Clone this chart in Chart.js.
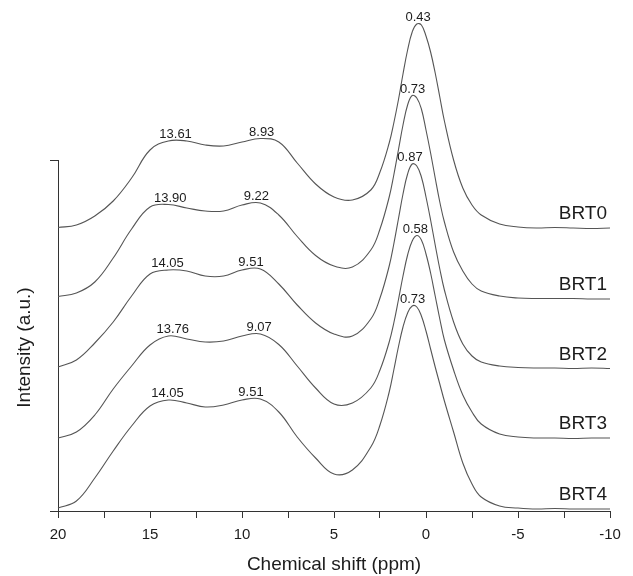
<!DOCTYPE html>
<html>
<head>
<meta charset="utf-8">
<script src="https://cdn.jsdelivr.net/npm/chart.js@4"></script>
<style>
  body { margin: 0; background: #fff; }
  #wrap { width: 633px; height: 576px; }
</style>
</head>
<body>
<div id="wrap"><canvas id="myChart" width="633" height="576"></canvas></div>
<script>
// chemical shift grid (ppm), shared by all spectra
const shifts = [20, 19, 18, 17, 16, 15, 14, 13, 12, 11, 10, 9, 8, 7, 6, 5, 4, 3, 2.5, 2,
  1.75, 1.5, 1.25, 1, 0.75, 0.5, 0.25, 0, -0.25, -0.5, -0.75, -1, -1.5, -2, -2.5, -3,
  -4, -5, -6, -7, -8, -9, -10]

// stacked intensities (a.u.)
const brt0 = [283.5, 286, 295, 310, 333, 361, 370, 370, 366, 365,
  369, 372.5, 369, 348, 327, 314, 311, 321, 339, 368,
  388, 411, 437, 461, 479, 487, 486, 475, 459, 438,
  414, 390, 351, 323, 306, 296, 287, 284, 283, 283.5,
  283, 282.5, 283]
const brt1 = [214.5, 218, 229, 253, 282, 304, 306.5, 303, 300, 300,
  306, 308, 296, 274.5, 255.5, 245, 244, 261, 282, 314,
  336, 361, 386, 406, 415.5, 413, 402, 381, 358, 333,
  309, 289, 259, 240, 227, 220, 215, 213, 212.5, 212.5,
  212.5, 212, 212]
const brt2 = [144, 151, 168, 189, 215, 237, 241, 240, 235, 235,
  241, 242, 227, 206, 188, 177, 175, 192, 213, 245,
  267, 292, 317, 337, 347, 345, 334, 314, 291, 266,
  242, 221, 189, 167, 155, 149, 145, 143.5, 143, 143,
  142.5, 143, 142.5]
const brt3 = [73, 79, 96, 122, 145, 166, 175, 172, 169, 170,
  175, 177, 166.5, 145, 123, 107, 108, 123, 141, 169,
  188, 211, 235, 256, 270, 275.5, 271, 257, 238, 215,
  192, 171, 141, 116, 99, 87, 77, 74, 73, 73,
  72.5, 73, 73]
const brt4 = [3, 10, 33, 60, 85, 105, 111, 108, 104, 106,
  111, 112, 99, 74, 53, 37, 41, 64, 86, 119,
  141, 164, 184, 198, 205, 204, 195, 180, 162, 144,
  127, 110, 79, 48, 27, 14, 5, 3, 2, 2.5,
  2, 2, 2]

const sampleNames = ['BRT0', 'BRT1', 'BRT2', 'BRT3', 'BRT4']
const spectra = [brt0, brt1, brt2, brt3, brt4]

// peak positions written on the curves
const peaks0 = ['13.61', '8.93', '0.43']
const peaks1 = ['13.90', '9.22', '0.73']
const peaks2 = ['14.05', '9.51', '0.87']
const peaks3 = ['13.76', '9.07', '0.58']
const peaks4 = ['14.05', '9.51', '0.73']
const peakLabels = [peaks0, peaks1, peaks2, peaks3, peaks4]

const xTicks = [20, 15, 10, 5, 0, -5, -10]

const FONT = "'Liberation Sans', Arial, Helvetica, sans-serif"
const LINE = '#555'
const INK = '#1c1c1c'

const labelPlugin = {
  id: 'labels',
  afterDatasetsDraw(chart) {
    const ctx = chart.ctx
    const xs = chart.scales.x
    const ys = chart.scales.y
    const area = chart.chartArea
    ctx.save()
    ctx.fillStyle = INK
    spectra.forEach((vals, i) => {
      // peak values above the curve
      ctx.font = '13px ' + FONT
      ctx.textAlign = 'center'
      ctx.textBaseline = 'alphabetic'
      peakLabels[i].forEach(txt => {
        const p = parseFloat(txt)
        let top = -Infinity
        shifts.forEach((s, k) => {
          if (Math.abs(s - p) <= 0.6 && vals[k] > top) top = vals[k]
        })
        ctx.fillText(txt, xs.getPixelForValue(p), ys.getPixelForValue(top) - 3)
      })
      // sample name at the right end
      ctx.font = '19px ' + FONT
      ctx.textAlign = 'right'
      ctx.textBaseline = 'middle'
      const last = vals[vals.length - 1]
      ctx.fillText(sampleNames[i], area.right - 3, ys.getPixelForValue(last) - 14)
    })
    // y axis title, sits a bit below the axis middle in the original
    ctx.translate(25, (area.top + area.bottom) / 2 + 12)
    ctx.rotate(-Math.PI / 2)
    ctx.font = '19px ' + FONT
    ctx.textAlign = 'center'
    ctx.textBaseline = 'middle'
    ctx.fillText('Intensity (a.u.)', 0, 0)
    ctx.restore()
  }
}

new Chart(document.getElementById('myChart'), {
  type: 'line',
  data: {
    datasets: spectra.map((vals, i) => ({
      label: sampleNames[i],
      data: shifts.map((s, k) => ({ x: s, y: vals[k] })),
      borderColor: LINE,
      borderWidth: 1.1,
      pointRadius: 0,
      tension: 0.4,
      fill: false,
      clip: false
    }))
  },
  options: {
    responsive: false,
    animation: false,
    layout: { padding: { top: 160, right: 23, bottom: 0, left: 0 } },
    plugins: {
      legend: { display: false },
      tooltip: { enabled: false }
    },
    scales: {
      x: {
        type: 'linear',
        reverse: true,
        min: -10,
        max: 20,
        afterFit: s => { s.height = 65 },
        border: { display: true, color: '#333', width: 1 },
        grid: { drawOnChartArea: false, drawTicks: true, tickLength: 7, color: '#333' },
        ticks: {
          stepSize: 2.5,
          autoSkip: false,
          maxRotation: 0,
          padding: 8,
          color: INK,
          font: { family: FONT, size: 15 },
          callback: v => xTicks.includes(v) ? String(v) : ''
        },
        title: {
          display: true,
          text: 'Chemical shift (ppm)',
          color: INK,
          font: { family: FONT, size: 19 },
          padding: { top: 0, bottom: 0 }
        }
      },
      y: {
        min: 0,
        max: 351,
        afterFit: s => { s.width = 58 },
        border: { display: true, color: '#333', width: 1 },
        grid: { drawOnChartArea: false, drawTicks: true, tickLength: 8, color: '#333' },
        ticks: { stepSize: 351, display: false },
        title: { display: false }
      }
    }
  },
  plugins: [labelPlugin]
})
</script>
</body>
</html>
